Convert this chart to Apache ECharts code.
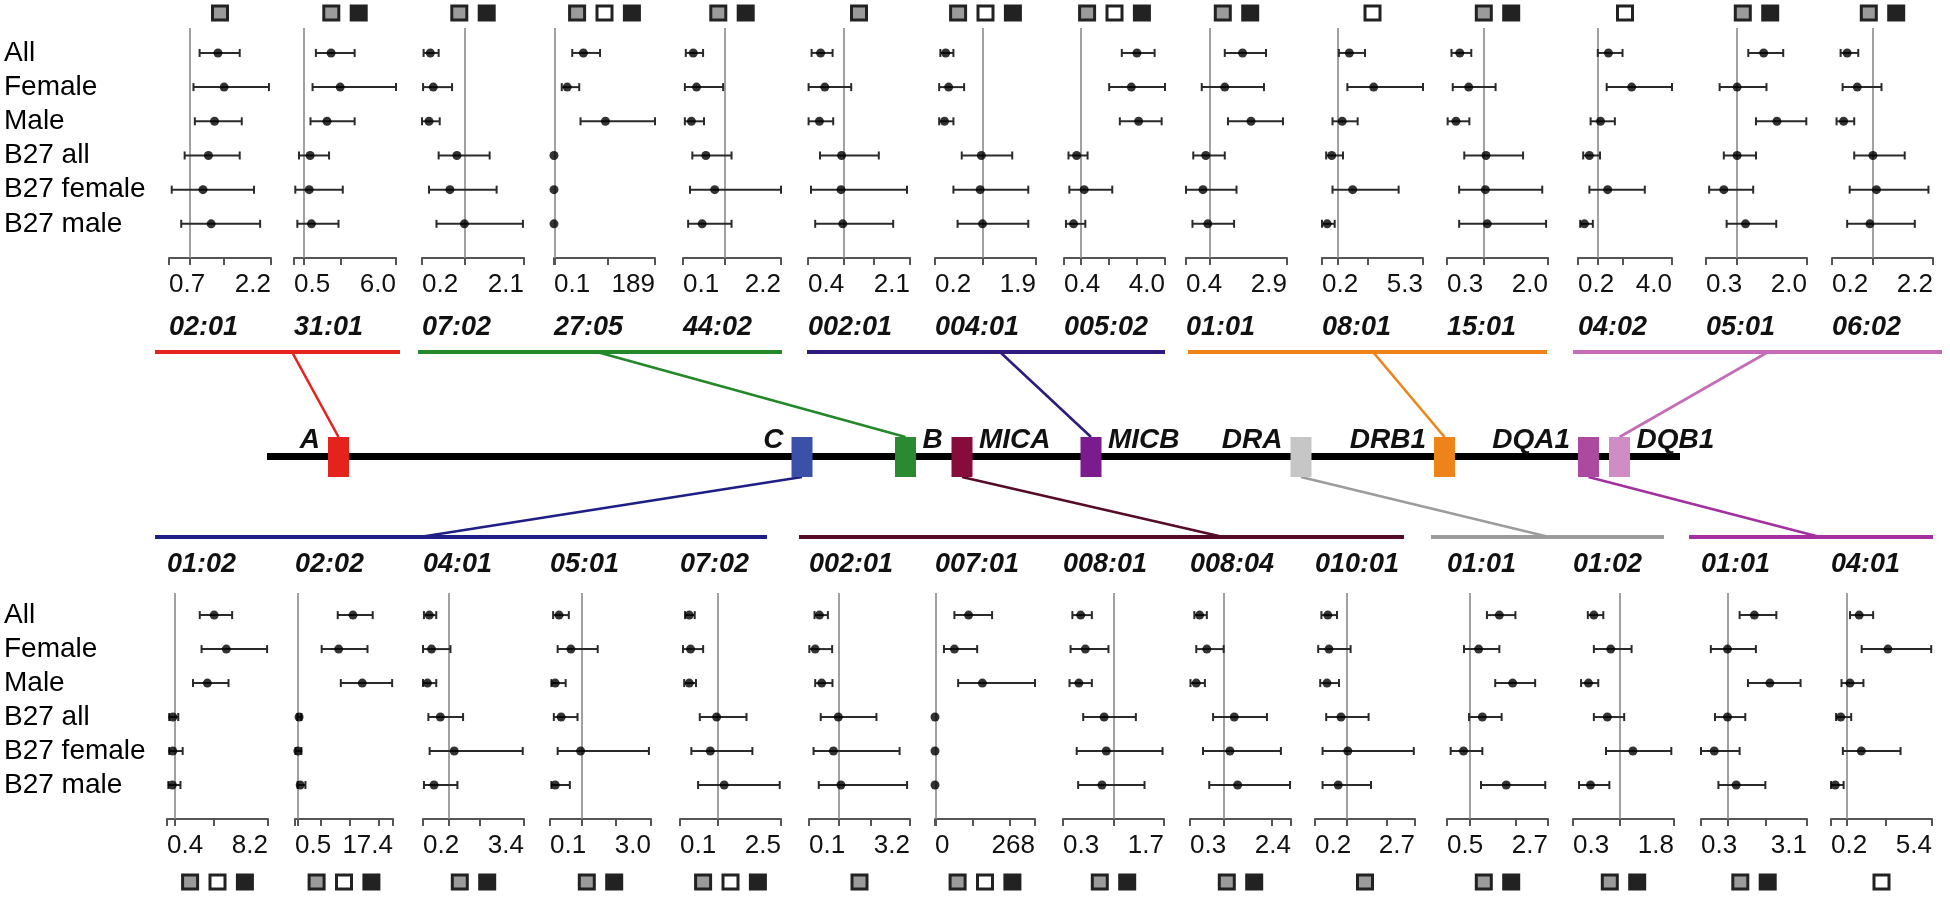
<!DOCTYPE html>
<html><head><meta charset="utf-8">
<script src="https://cdn.jsdelivr.net/npm/echarts@6/dist/echarts.min.js"></script>
<style>html,body{margin:0;padding:0;background:#fff;}#c{width:1950px;height:897px;}</style>
</head><body><div id="c"></div>
<script>
// ---------------- DATA ----------------
const rows = ['All','Female','Male','B27 all','B27 female','B27 male'];

// top row (class I A, B ; MICB ; DRB1 ; DQB1)
const topAlleles  = ['02:01','31:01','07:02','27:05','44:02','002:01','004:01','005:02','01:01','08:01','15:01','04:02','05:01','06:02'];
const topMinLabel = ['0.7','0.5','0.2','0.1','0.1','0.4','0.2','0.4','0.4','0.2','0.3','0.2','0.3','0.2'];
const topMaxLabel = ['2.2','6.0','2.1','189','2.2','2.1','1.9','4.0','2.9','5.3','2.0','4.0','2.0','2.2'];
const topAxisMin  = [0.7,0.5,0.2,0.1,0.1,0.4,0.2,0.4,0.4,0.2,0.42,0.2,0.555,0.2];
const topAxisMax  = [2.2,6.0,2.1,189,2.2,2.1,1.9,4.0,2.9,5.3,2.0,4.0,2.0,2.2];
const topExtraTicks = [[1.5],[3],[],[100],[],[1.5],[],[2,3],[],[2.5],[],[2],[],[]];
const topIcons = ['g','gk','gk','gwk','gk','g','gwk','gwk','gk','w','gk','w','gk','gk'];
const topOR = [
 [1.42,1.51,1.37,1.28,1.20,1.32],
 [2.50,2.99,2.28,1.37,1.32,1.44],
 [0.355,0.41,0.33,0.85,0.72,0.99],
 [55.1,24.8,96.3,0.1,0.1,0.1],
 [0.32,0.39,0.28,0.59,0.78,0.51],
 [0.61,0.68,0.59,0.96,0.95,0.98],
 [0.38,0.43,0.36,0.98,0.96,1.0],
 [3.0,2.80,3.06,0.85,1.12,0.74],
 [1.80,1.36,2.01,0.89,0.82,0.94],
 [1.58,2.81,1.22,0.69,1.75,0.46],
 [0.62,0.76,0.56,1.03,1.02,1.05],
 [1.43,2.37,1.11,0.66,1.40,0.46],
 [1.38,1.0,1.57,1.0,0.81,1.12],
 [0.50,0.70,0.43,1.01,1.08,0.95]];
const topLo = [
 [1.15,1.06,1.08,0.93,0.74,0.88],
 [1.68,1.50,1.39,0.77,0.57,0.68],
 [0.23,0.22,0.20,0.51,0.33,0.47],
 [34.2,14.6,49.7,0.1,0.1,0.1],
 [0.16,0.14,0.14,0.30,0.25,0.21],
 [0.46,0.41,0.41,0.60,0.45,0.52],
 [0.29,0.27,0.27,0.65,0.51,0.58],
 [2.46,2.01,2.39,0.56,0.59,0.47],
 [1.36,0.79,1.44,0.58,0.40,0.56],
 [1.05,1.48,0.73,0.41,0.73,0.20],
 [0.49,0.51,0.43,0.69,0.61,0.61],
 [1.0,1.36,0.71,0.41,0.66,0.29],
 [1.16,0.75,1.27,0.81,0.60,0.85],
 [0.37,0.41,0.29,0.64,0.55,0.50]];
const topHi = [
 [1.74,2.17,1.77,1.74,1.95,2.04],
 [3.77,6.0,3.77,2.39,3.13,2.90],
 [0.51,0.76,0.53,1.46,1.59,2.08],
 [86.2,47.3,189,0.1,0.1,0.1],
 [0.53,0.96,0.55,1.14,2.2,1.14],
 [0.81,1.12,0.82,1.58,2.05,1.82],
 [0.51,0.69,0.51,1.50,1.77,1.77],
 [3.63,4.0,3.88,1.24,2.12,1.16],
 [2.38,2.33,2.80,1.36,1.65,1.59],
 [2.37,5.3,2.0,1.26,4.07,0.84],
 [0.80,1.18,0.77,1.61,1.91,1.97],
 [2.0,4.0,1.69,1.09,2.90,0.80],
 [1.66,1.42,1.99,1.27,1.23,1.56],
 [0.72,1.18,0.64,1.64,2.11,1.84]];

// bottom row (C ; MICA ; DRA ; DQA1)
const botAlleles  = ['01:02','02:02','04:01','05:01','07:02','002:01','007:01','008:01','008:04','010:01','01:01','01:02','01:01','04:01'];
const botMinLabel = ['0.4','0.5','0.2','0.1','0.1','0.1','0','0.3','0.3','0.2','0.5','0.3','0.3','0.2'];
const botMaxLabel = ['8.2','17.4','3.4','3.0','2.5','3.2','268','1.7','2.4','2.7','2.7','1.8','3.1','5.4'];
const botAxisMin  = [0.4,0.5,0.2,0.1,0.1,0.1,0,0.3,0.3,0.2,0.5,0.3,0.3,0.2];
const botAxisMax  = [8.2,17.4,3.4,3.0,2.5,3.2,268,1.7,2.4,2.7,2.7,1.8,3.1,5.4];
const botExtraTicks = [[4],[5,10,15],[2],[2],[],[2],[100,200],[],[2],[2],[2],[],[2],[3]];
const botIcons = ['gwk','gwk','gk','gk','gwk','g','gwk','gk','gk','g','gk','gk','gk','w'];
const botOR = [
 [4.04,4.98,3.52,0.85,0.85,0.81],
 [10.5,8.03,12.1,1.2,1.0,1.4],
 [0.40,0.47,0.34,0.75,1.19,0.55],
 [0.36,0.70,0.25,0.42,0.98,0.25],
 [0.32,0.35,0.32,0.97,0.82,1.15],
 [0.42,0.29,0.49,1.0,0.85,1.08],
 [90,52,127,0,0,0],
 [0.545,0.61,0.52,0.87,0.90,0.84],
 [0.50,0.65,0.43,1.22,1.13,1.29],
 [0.52,0.55,0.50,0.85,1.02,0.78],
 [1.64,1.19,1.93,1.27,0.86,1.79],
 [0.61,0.86,0.53,0.81,1.19,0.56],
 [1.71,1.0,2.12,1.0,0.65,1.23],
 [1.65,3.13,1.18,0.70,1.76,0.42]];
const botLo = [
 [2.93,3.07,2.41,0.57,0.57,0.5],
 [7.87,5.1,8.4,0.9,0.6,0.95],
 [0.23,0.2,0.2,0.37,0.41,0.23],
 [0.19,0.32,0.14,0.21,0.32,0.14],
 [0.22,0.17,0.2,0.57,0.37,0.53],
 [0.27,0.11,0.29,0.46,0.24,0.40],
 [52,24,62,0,0,0],
 [0.43,0.405,0.39,0.58,0.49,0.51],
 [0.39,0.43,0.31,0.78,0.57,0.70],
 [0.36,0.28,0.33,0.48,0.39,0.39],
 [1.37,0.87,1.55,0.98,0.58,1.24],
 [0.52,0.61,0.42,0.61,0.79,0.39],
 [1.32,0.56,1.54,0.67,0.3,0.76],
 [1.18,1.78,0.74,0.46,0.81,0.2]];
const botHi = [
 [5.43,8.13,5.15,1.27,1.61,1.44],
 [13.9,13.0,17.25,1.6,1.6,2.3],
 [0.62,1.07,0.62,1.47,3.36,1.29],
 [0.64,1.47,0.55,0.89,2.94,0.67],
 [0.45,0.65,0.48,1.68,1.82,2.47],
 [0.68,0.81,0.82,2.17,2.88,3.11],
 [153,113,268,0,0,0],
 [0.70,0.93,0.70,1.31,1.68,1.43],
 [0.65,1.0,0.61,1.90,2.19,2.38],
 [0.75,1.09,0.80,1.54,2.67,1.60],
 [1.99,1.64,2.42,1.69,1.27,2.64],
 [0.75,1.17,0.675,1.06,1.76,0.84],
 [2.29,1.75,2.93,1.47,1.32,2.0],
 [2.37,5.36,1.87,1.24,3.78,0.85]];

// gene map (positions in map units along the chromosome drawing)
const genes     = ['A','C','B','MICA','MICB','DRA','DRB1','DQA1','DQB1'];
const genePos   = [338.5, 802, 905.5, 962, 1091, 1301, 1444.5, 1588.5, 1619.5];
const geneColor = ['#e4231d','#3b51a7','#2a8a31','#870c3c','#7a1b8e','#c6c6c6','#ee8419','#ab4a9e','#cf8dc3'];
const geneLabelSide = ['left','left','right','right','right','left','left','left','right'];
const chromStart = 267, chromEnd = 1680;

const topGroupGene  = ['A','B','MICB','DRB1','DQB1'];
const topGroupStart = [155, 418, 807, 1188, 1573];
const topGroupEnd   = [400, 782, 1165, 1547, 1942];
const topGroupLink  = [292, 597, 1000, 1373, 1768];
const topGroupColor = ['#e4231d','#22882a','#2f1b7d','#ee8419','#c46cb7'];
const botGroupGene  = ['C','MICA','DRA','DQA1'];
const botGroupStart = [155, 799, 1431, 1689];
const botGroupEnd   = [767, 1404, 1664, 1933];
const botGroupLink  = [423, 1221, 1547, 1818];
const botGroupColor = ['#1e1e86','#560c29','#9c9c9c','#a3309c'];

// ---------------- LAYOUT ----------------
const FONT = '"Liberation Sans", Arial, sans-serif';
const topLeft  = [169,294,422,554,683,808,935,1064,1186,1322,1447,1578,1706,1832];
const topWidth = [102,102,102,101,98,102,101,101,101,101,101,94,101,101];
const botLeft  = [167,295,423,550,680,809,935,1063,1190,1315,1447,1573,1701,1831];
const botWidth = [101,98,101,101,101,101,100,101,101,100,101,101,106,101];
const TOP = {top:28, height:230, ymin:-0.73, ymax:6.0, alleleY:328, iconY:13};
const BOT = {top:593, height:226, ymin:-0.65, ymax:6.0, alleleY:565, iconY:882};

const grids=[], xAxes=[], yAxes=[], series=[], graphics=[];

function addRow(L, W, G, alleles, amin, amax, minL, maxL, extra, icons, OR, LO, HI) {
  for (let p = 0; p < alleles.length; p++) {
    const gi = grids.length;
    const mn = amin[p], mx = amax[p], ml = minL[p], xl = maxL[p];
    grids.push({left:L[p], top:G.top, width:W[p], height:G.height, containLabel:false, outerBoundsMode:'none'});
    xAxes.push({
      gridIndex:gi, type:'value', min:mn, max:mx, position:'bottom',
      axisLine:{show:true, onZero:false, lineStyle:{color:'#555', width:2}},
      axisTick:{show:true, inside:false, length:7, customValues:[mn,1].concat(extra[p]).concat([mx]), lineStyle:{color:'#555', width:2}},
      axisLabel:{show:true, customValues:[mn,mx], formatter:(v)=> Math.abs(v-mn)<1e-9 ? ml : xl,
        fontSize:26, fontFamily:FONT, color:'#111', margin:14, alignMinLabel:'left', alignMaxLabel:'right'},
      splitLine:{show:false}, minorTick:{show:false}
    });
    yAxes.push({
      gridIndex:gi, type:'value', min:G.ymin, max:G.ymax, inverse:true,
      axisLine:{show:false}, axisTick:{show:false}, splitLine:{show:false},
      axisLabel: p === 0 ? {show:true, customValues:[0,1,2,3,4,5], formatter:(v)=>rows[Math.round(v)] || '',
        align:'left', margin:L[p]-4, fontSize:28, fontFamily:FONT, color:'#000'} : {show:false}
    });
    const bars = [], pts = [];
    for (let r = 0; r < rows.length; r++) { bars.push([LO[p][r], HI[p][r], r]); pts.push([OR[p][r], r]); }
    series.push({
      type:'custom', xAxisIndex:gi, yAxisIndex:gi, data:bars, silent:true,
      renderItem:(params, api) => {
        const y = api.value(2);
        const a = api.coord([api.value(0), y]), b = api.coord([api.value(1), y]);
        if (Math.abs(b[0]-a[0]) < 0.5) return {type:'group', children:[]};
        const c = 4, st = {stroke:'#2a2a2a', lineWidth:2};
        return {type:'group', children:[
          {type:'line', shape:{x1:a[0], y1:a[1], x2:b[0], y2:b[1]}, style:st},
          {type:'line', shape:{x1:a[0], y1:a[1]-c, x2:a[0], y2:a[1]+c}, style:st},
          {type:'line', shape:{x1:b[0], y1:b[1]-c, x2:b[0], y2:b[1]+c}, style:st}]};
      }
    });
    series.push({
      type:'scatter', xAxisIndex:gi, yAxisIndex:gi, data:pts, symbol:'circle', symbolSize:9, silent:true,
      itemStyle:{color:'#000'}, z:3,
      markLine:{silent:true, symbol:['none','none'], label:{show:false}, z:1,
        lineStyle:{color:'#8a8a8a', width:1.6, type:'solid'}, data:[{xAxis:1}]}
    });
    // allele label
    graphics.push({type:'text', x:L[p], y:G.alleleY, silent:true,
      style:{text:alleles[p], font:'italic bold 27px ' + FONT, fill:'#111', align:'left', textAlign:'left', verticalAlign:'middle', textVerticalAlign:'middle'}});
    // inheritance icons
    const ic = icons[p].split(''), step = 27.4, cx = L[p] + W[p]/2;
    ic.forEach((t, k) => {
      const x = cx + (k - (ic.length-1)/2) * step;
      graphics.push({type:'rect', silent:true, shape:{x:x-7.5, y:G.iconY-7, width:15, height:14},
        style:{fill: t==='g' ? '#9b9b9b' : (t==='w' ? '#ffffff' : '#222222'), stroke:'#222', lineWidth:3}});
    });
  }
}
addRow(topLeft, topWidth, TOP, topAlleles, topAxisMin, topAxisMax, topMinLabel, topMaxLabel, topExtraTicks, topIcons, topOR, topLo, topHi);
addRow(botLeft, botWidth, BOT, botAlleles, botAxisMin, botAxisMax, botMinLabel, botMaxLabel, botExtraTicks, botIcons, botOR, botLo, botHi);

// ---------------- GENE MAP (overlay coordinate system) ----------------
const og = grids.length;
grids.push({left:0, top:0, width:1950, height:897, containLabel:false, outerBoundsMode:'none'});
xAxes.push({gridIndex:og, type:'value', min:0, max:1950, show:false});
yAxes.push({gridIndex:og, type:'value', min:0, max:897, inverse:true, show:false});
const LINE_Y = 456.5, BOX_TOP = 437, BOX_BOT = 477, BAR_TOP_Y = 352, BAR_BOT_Y = 536.5;

series.push({type:'line', xAxisIndex:og, yAxisIndex:og, symbol:'none', silent:true, z:2,
  data:[[chromStart, LINE_Y],[chromEnd, LINE_Y]], lineStyle:{color:'#000', width:7, opacity:1}});

const linkData = [];
topGroupGene.forEach((g, i) => {
  const gp = genePos[genes.indexOf(g)];
  linkData.push({coords:[[topGroupStart[i], BAR_TOP_Y],[topGroupEnd[i], BAR_TOP_Y]], lineStyle:{color:topGroupColor[i], width:4, opacity:1}});
  linkData.push({coords:[[topGroupLink[i], BAR_TOP_Y],[gp, BOX_TOP]], lineStyle:{color:topGroupColor[i], width:2.6, opacity:1}});
});
botGroupGene.forEach((g, i) => {
  const gp = genePos[genes.indexOf(g)];
  linkData.push({coords:[[botGroupStart[i], BAR_BOT_Y],[botGroupEnd[i], BAR_BOT_Y]], lineStyle:{color:botGroupColor[i], width:4, opacity:1}});
  linkData.push({coords:[[gp, BOX_BOT],[botGroupLink[i], BAR_BOT_Y]], lineStyle:{color:botGroupColor[i], width:2.6, opacity:1}});
});
series.push({type:'lines', coordinateSystem:'cartesian2d', xAxisIndex:og, yAxisIndex:og, silent:true, z:1,
  polyline:false, effect:{show:false}, lineStyle:{opacity:1}, data:linkData});

series.push({type:'custom', xAxisIndex:og, yAxisIndex:og, silent:true, z:4,
  data: genes.map((g, i) => [genePos[i], i]),
  renderItem:(params, api) => {
    const i = api.value(1), x = api.value(0);
    const p1 = api.coord([x-10.5, BOX_TOP]), p2 = api.coord([x+10.5, BOX_BOT]);
    const lab = api.coord([geneLabelSide[i]==='left' ? x-18.5 : x+17, 440]);
    return {type:'group', children:[
      {type:'rect', shape:{x:p1[0], y:p1[1], width:p2[0]-p1[0], height:p2[1]-p1[1]}, style:{fill:geneColor[i]}},
      {type:'text', x:lab[0], y:lab[1], style:{text:genes[i], font:'italic bold 28px ' + FONT, fill:'#111',
        align:geneLabelSide[i]==='left' ? 'right':'left', verticalAlign:'middle'}}
    ]};
  }
});

const chart = echarts.init(document.getElementById('c'), null, {renderer:'canvas'});
chart.setOption({
  animation:false, backgroundColor:'#fff',
  grid:grids, xAxis:xAxes, yAxis:yAxes, series:series, graphic:{elements:graphics}
});
</script></body></html>
